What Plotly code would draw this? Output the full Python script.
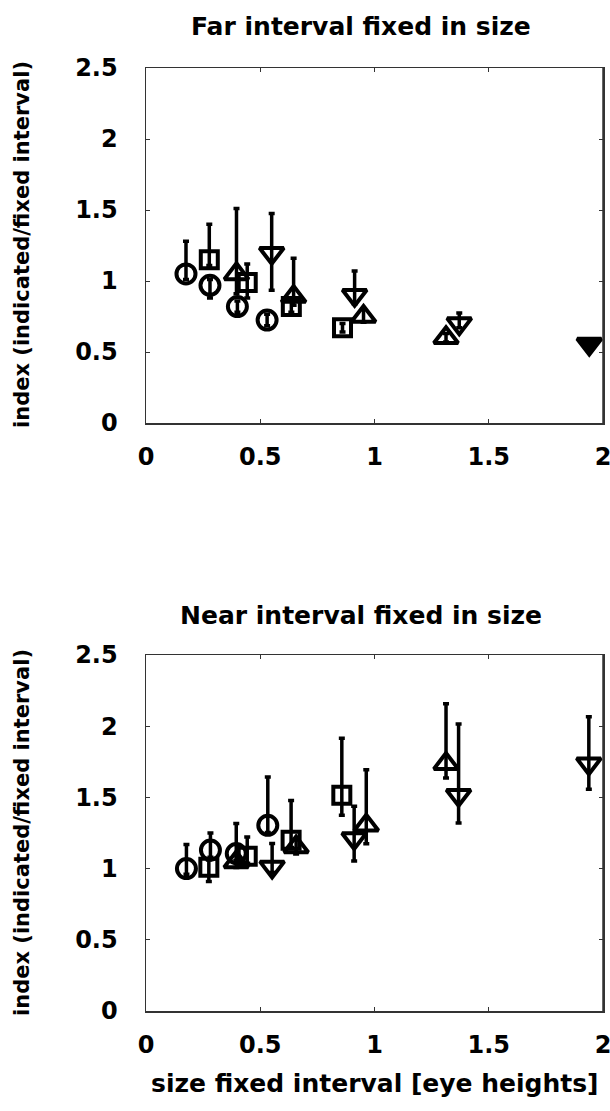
import plotly.graph_objects as go

# ---------------- data ----------------
# Far interval fixed in size (top panel)
far_circle_x = [0.175, 0.28, 0.40, 0.53]
far_circle_y = [1.05, 0.97, 0.82, 0.725]
far_circle_up = [0.23, 0.04, 0.04, 0.04]
far_circle_dn = [0.04, 0.09, 0.04, 0.04]

far_square_x = [0.277, 0.443, 0.636, 0.86]
far_square_y = [1.15, 0.99, 0.82, 0.67]
far_square_up = [0.25, 0.13, 0.04, 0.03]
far_square_dn = [0.04, 0.11, 0.04, 0.03]

far_tup_x = [0.396, 0.646, 0.952, 1.313]
far_tup_y = [1.05, 0.89, 0.75, 0.60]
far_tup_up = [0.46, 0.27, 0.05, 0.03]
far_tup_dn = [0.14, 0.06, 0.04, 0.03]

far_tdn_x = [0.55, 0.913, 1.371, 1.94]
far_tdn_y = [1.195, 0.90, 0.70, 0.556]
far_tdn_up = [0.28, 0.17, 0.075, 0.0]
far_tdn_dn = [0.26, 0.06, 0.03, 0.0]

# Near interval fixed in size (bottom panel)
near_circle_x = [0.177, 0.282, 0.395, 0.533]
near_circle_y = [1.00, 1.13, 1.106, 1.304]
near_circle_up = [0.17, 0.12, 0.21, 0.34]
near_circle_dn = [0.04, 0.05, 0.05, 0.05]

near_square_x = [0.275, 0.443, 0.635, 0.857]
near_square_y = [1.01, 1.087, 1.199, 1.515]
near_square_up = [0.05, 0.135, 0.28, 0.40]
near_square_dn = [0.10, 0.05, 0.05, 0.14]

near_tup_x = [0.395, 0.657, 0.964, 1.313]
near_tup_y = [1.047, 1.152, 1.304, 1.737]
near_tup_up = [0.05, 0.05, 0.39, 0.42]
near_tup_dn = [0.04, 0.05, 0.13, 0.10]

near_tdn_x = [0.552, 0.911, 1.368, 1.938]
near_tdn_y = [1.012, 1.211, 1.515, 1.737]
near_tdn_up = [0.165, 0.226, 0.50, 0.33]
near_tdn_dn = [0.04, 0.157, 0.195, 0.18]

x_ticks = [0, 0.5, 1, 1.5, 2]
x_tick_labels = ["0", "0.5", "1", "1.5", "2"]
y_ticks = [0, 0.5, 1, 1.5, 2, 2.5]
y_tick_labels = ["0", "0.5", "1", "1.5", "2", "2.5"]

title_far = "Far interval fixed in size"
title_near = "Near interval fixed in size"
y_title = "index (indicated/fixed interval)"
x_title = "size fixed interval [eye heights]"

# ---------------- figure ----------------
W, H = 610, 1111
FONT = "DejaVu Sans"
fig = go.Figure()


def add(x, y, up, dn, symbol, size, xa, ya):
    fig.add_trace(go.Scatter(
        x=x, y=y, mode="markers", xaxis=xa, yaxis=ya, showlegend=False,
        cliponaxis=False, hoverinfo="skip",
        marker=dict(symbol=symbol, size=size, color="black",
                    line=dict(color="black", width=4)),
        error_y=dict(type="data", symmetric=False, array=up, arrayminus=dn,
                     color="black", thickness=3.5, width=3),
    ))


add(far_circle_x, far_circle_y, far_circle_up, far_circle_dn, "circle-open", 19, "x", "y")
add(far_square_x, far_square_y, far_square_up, far_square_dn, "square-open", 17, "x", "y")
add(far_tup_x, far_tup_y, far_tup_up, far_tup_dn, "triangle-up-open", 21, "x", "y")
add(far_tdn_x, far_tdn_y, far_tdn_up, far_tdn_dn,
    ["triangle-down-open", "triangle-down-open", "triangle-down-open", "triangle-down"], 21, "x", "y")

add(near_circle_x, near_circle_y, near_circle_up, near_circle_dn, "circle-open", 19, "x2", "y2")
add(near_square_x, near_square_y, near_square_up, near_square_dn, "square-open", 17, "x2", "y2")
add(near_tup_x, near_tup_y, near_tup_up, near_tup_dn, "triangle-up-open", 21, "x2", "y2")
add(near_tdn_x, near_tdn_y, near_tdn_up, near_tdn_dn, "triangle-down-open", 21, "x2", "y2")

L, R = 146, 603


def px(v):
    return v / W


def py(v):
    return 1 - v / H


tickfont = dict(family=FONT, size=24, color="black", weight="bold")
axis_common = dict(showline=True, mirror="allticks", linecolor="#333", linewidth=1.5,
                   ticks="inside", ticklen=4, tickcolor="#333", showgrid=False,
                   zeroline=False, tickfont=tickfont, automargin=False,
                   ticklabeloverflow="allow")

fig.update_layout(
    template="none",
    width=W, height=H, margin=dict(l=0, r=0, t=0, b=0, autoexpand=False),
    paper_bgcolor="white", plot_bgcolor="white",
    xaxis=dict(domain=[px(L), px(R)], anchor="y", range=[0, 2],
               tickvals=x_ticks, ticktext=x_tick_labels, ticklabelstandoff=12, **axis_common),
    yaxis=dict(domain=[py(423), py(68)], anchor="x", range=[0, 2.5],
               tickvals=y_ticks, ticktext=y_tick_labels, ticklabelstandoff=22, **axis_common),
    xaxis2=dict(domain=[px(L), px(R)], anchor="y2", range=[0, 2],
                tickvals=x_ticks, ticktext=x_tick_labels, ticklabelstandoff=12, **axis_common),
    yaxis2=dict(domain=[py(1011), py(655)], anchor="x2", range=[0, 2.5],
                tickvals=y_ticks, ticktext=y_tick_labels, ticklabelstandoff=22, **axis_common),
)

# right-hand frame edge of each panel
for xr, yr in (("x domain", "y domain"), ("x2 domain", "y2 domain")):
    fig.add_shape(type="line", xref=xr, yref=yr, x0=1, x1=1, y0=0, y1=1,
                  line=dict(color="#333", width=1.5), layer="above")

title_font = dict(family=FONT, size=25, color="black", weight="bold")
ylab_font = dict(family=FONT, size=21, color="black", weight="bold")
ann = [
    dict(text=title_far, x=px(361), y=py(26), xref="paper", yref="paper",
         showarrow=False, font=title_font, xanchor="center", yanchor="middle"),
    dict(text=title_near, x=px(361), y=py(615), xref="paper", yref="paper",
         showarrow=False, font=title_font, xanchor="center", yanchor="middle"),
    dict(text=y_title, x=px(22), y=py(245), xref="paper", yref="paper",
         showarrow=False, font=ylab_font, textangle=-90, xanchor="center", yanchor="middle"),
    dict(text=y_title, x=px(22), y=py(833), xref="paper", yref="paper",
         showarrow=False, font=ylab_font, textangle=-90, xanchor="center", yanchor="middle"),
    dict(text=x_title, x=px(375), y=py(1083), xref="paper", yref="paper",
         showarrow=False, font=title_font, xanchor="center", yanchor="middle"),
]
fig.update_layout(annotations=ann)

fig.write_html(
    "out.html",
    config={"displayModeBar": False, "staticPlot": True},
    post_script="document.documentElement.style.overflow='hidden';"
                "document.body.style.margin='0';document.body.style.overflow='hidden';",
)
